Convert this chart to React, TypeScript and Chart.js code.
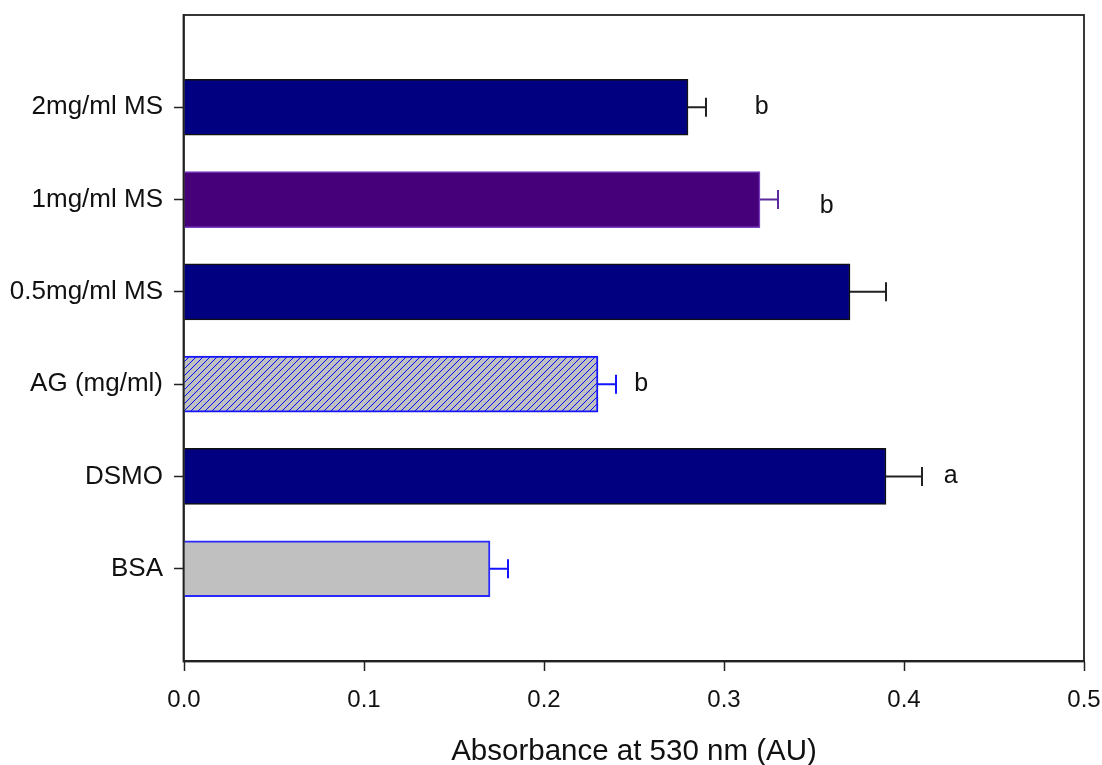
import React, { useEffect, useRef } from "react";
import { Chart, registerables } from "chart.js";

Chart.register(...registerables);

// ---- data ----
const categories = ["2mg/ml MS", "1mg/ml MS", "0.5mg/ml MS", "AG (mg/ml)", "DSMO", "BSA"];
const values = [0.28, 0.32, 0.37, 0.23, 0.39, 0.17];
const errors = [0.01, 0.01, 0.02, 0.01, 0.02, 0.01];
const letters = ["b", "b", "", "b", "a", ""];
const letterX = [0.321, 0.357, null, 0.254, 0.426, null];
const xMin = 0;
const xMax = 0.5;
const xStep = 0.1;
const xTitle = "Absorbance at 530 nm (AU)";

// ---- styles ----
const fills = ["#000080", "#46007A", "#000080", "hatch", "#000080", "#C0C0C0"];
const borders = ["#111111", "#7B3FC0", "#111111", "#1414FF", "#111111", "#2828FF"];
const errColors = ["#222222", "#5B2A9E", "#222222", "#1414FF", "#222222", "#1414FF"];
const FONT = "'Liberation Sans', Arial, sans-serif";

function makeHatch(): CanvasPattern | string {
  const c = document.createElement("canvas");
  const s = 7;
  c.width = s;
  c.height = s;
  const g = c.getContext("2d");
  if (!g) return "#C0C0C0";
  g.fillStyle = "#C0C0C0";
  g.fillRect(0, 0, s, s);
  g.strokeStyle = "#0000ff";
  g.lineWidth = 1;
  g.beginPath();
  g.moveTo(0, s);
  g.lineTo(s, 0);
  g.moveTo(-s, s);
  g.lineTo(s, -s);
  g.moveTo(0, 2 * s);
  g.lineTo(2 * s, 0);
  g.stroke();
  const p = g.createPattern(c, "repeat");
  return p || "#C0C0C0";
}

export default function App() {
  const ref = useRef<HTMLCanvasElement | null>(null);

  useEffect(() => {
    if (!ref.current) return;
    const hatch = makeHatch();
    const labels = ["", ...categories, ""];
    const data = [null, ...values, null];
    const bg = ["transparent", ...fills.map((f) => (f === "hatch" ? hatch : f)), "transparent"];
    const bd = ["transparent", ...borders, "transparent"];

    const overlay = {
      id: "overlay",
      afterDatasetsDraw(chart: any) {
        const ctx = chart.ctx;
        const xs = chart.scales.x;
        const ys = chart.scales.y;
        ctx.save();
        values.forEach((v, i) => {
          const y = ys.getPixelForValue(i + 1);
          const x0 = xs.getPixelForValue(v);
          const x1 = xs.getPixelForValue(v + errors[i]);
          ctx.strokeStyle = errColors[i];
          ctx.lineWidth = 2;
          ctx.beginPath();
          ctx.moveTo(x0, y);
          ctx.lineTo(x1, y);
          ctx.moveTo(x1, y - 9.5);
          ctx.lineTo(x1, y + 9.5);
          ctx.stroke();
          const lx = letterX[i];
          if (letters[i] && lx !== null) {
            ctx.fillStyle = "#111";
            ctx.font = `25px ${FONT}`;
            ctx.textAlign = "center";
            ctx.textBaseline = "middle";
            const dy = i === 1 ? 7 : 0;
            ctx.fillText(letters[i], xs.getPixelForValue(lx), y + dy);
          }
        });
        const a = chart.chartArea;
        ctx.strokeStyle = "#222";
        ctx.lineWidth = 1.8;
        ctx.strokeRect(a.left - 0.5, a.top, a.right - a.left + 0.5, a.bottom - a.top + 0.5);
        ctx.restore();
      },
    };

    const zeroPad = (s: any) => {
      s.paddingLeft = 0;
      s.paddingRight = 0;
      s.paddingTop = 0;
      s.paddingBottom = 0;
    };

    const chart = new Chart(ref.current, {
      type: "bar",
      data: {
        labels,
        datasets: [
          {
            data,
            backgroundColor: bg,
            borderColor: bd,
            borderWidth: [0, 1.5, 1.5, 1.5, 2, 1.5, 2, 0],
            barThickness: 56,
          },
        ],
      },
      options: {
        indexAxis: "y",
        responsive: false,
        animation: false,
        layout: { padding: { top: 15, right: 18, left: 0, bottom: 0 } },
        plugins: {
          legend: { display: false },
          tooltip: { enabled: false },
        },
        scales: {
          x: {
            type: "linear",
            min: xMin,
            max: xMax,
            afterFit: (s: any) => {
              s.height = 104;
              zeroPad(s);
            },
            ticks: {
              stepSize: xStep,
              callback: (v: any) => Number(v).toFixed(1),
              font: { family: FONT, size: 24 },
              color: "#111",
              padding: 15,
            },
            grid: {
              drawOnChartArea: false,
              tickLength: 10,
              tickColor: "#222",
              tickWidth: 1.5,
            },
            border: { display: true, color: "#222", width: 1.8 },
            title: {
              display: true,
              text: xTitle,
              font: { family: FONT, size: 29.5, lineHeight: 0.9 },
              color: "#111",
              padding: { top: 0, bottom: 0 },
            },
          },
          y: {
            type: "category",
            offset: false,
            afterFit: (s: any) => {
              s.width = 184;
              zeroPad(s);
            },
            ticks: {
              font: { family: FONT, size: 26 },
              color: "#111",
              padding: 11,
              autoSkip: false,
            },
            grid: {
              offset: false,
              drawOnChartArea: false,
              tickLength: 10,
              tickWidth: 1.5,
              tickColor: (c: any) =>
                c.index === 0 || c.index === labels.length - 1 ? "transparent" : "#222",
            },
            border: { display: true, color: "#222", width: 1.8 },
          },
        },
      },
      plugins: [overlay],
    } as any);

    return () => chart.destroy();
  }, []);

  return (
    <div style={{ position: "fixed", left: 0, top: 0, width: 1102, height: 765, background: "#fff" }}>
      <canvas ref={ref} width={1102} height={765} style={{ width: 1102, height: 765 }} />
    </div>
  );
}
